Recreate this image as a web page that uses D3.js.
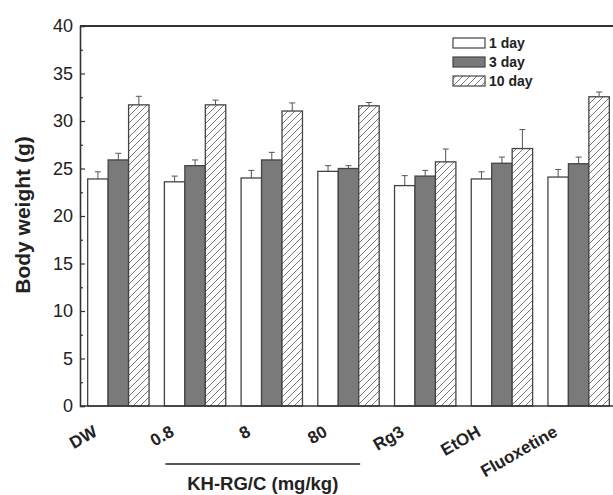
<!DOCTYPE html>
<html><head><meta charset="utf-8">
<script src="https://cdn.jsdelivr.net/npm/d3@7"></script>
<style>body{margin:0;background:#fff}svg{display:block}text{font-family:Arial,"Liberation Sans",sans-serif;fill:#222}</style>
</head><body><svg id="c" width="613" height="495"></svg>
<script>
const categories = ["DW","0.8","8","80","Rg3","EtOH","Fluoxetine"];
const seriesNames = ["1 day","3 day","10 day"];
const day1    = [23.9,23.6,24.0,24.7,23.2,23.9,24.1];
const day1Err = [0.75,0.6,0.8,0.6,1.05,0.75,0.8];
const day3    = [25.9,25.3,25.9,25.0,24.2,25.55,25.5];
const day3Err = [0.7,0.6,0.8,0.3,0.6,0.65,0.7];
const day10    = [31.7,31.7,31.05,31.6,25.7,27.1,32.55];
const day10Err = [0.9,0.5,0.85,0.35,1.35,2.0,0.5];
const yTicks = [0,5,10,15,20,25,30,35,40];
const yMinorTicks = [2.5,7.5,12.5,17.5,22.5,27.5,32.5,37.5];
const groupLabel = "KH-RG/C (mg/kg)";
const yTitle = "Body weight (g)";

(function(){
const values = [day1, day3, day10];
const errs = [day1Err, day3Err, day10Err];

const svg = d3.select("#c");
const pL = 80, pR = 617, pT = 26, pB = 406;

const x = d3.scaleBand().domain(categories).range([pL, pR]).paddingInner(0.2).paddingOuter(0.1);
const xs = d3.scaleBand().domain(seriesNames).range([0, x.bandwidth()]);
const y = d3.scaleLinear().domain([0, 40]).range([pB, pT]);

const defs = svg.append("defs");
const pat = defs.append("pattern").attr("id","hatch").attr("patternUnits","userSpaceOnUse")
  .attr("width",7).attr("height",7);
pat.append("rect").attr("width",7).attr("height",7).attr("fill","#fff");
pat.append("path").attr("d","M0,7 L7,0 M-1,1 L1,-1 M6,8 L8,6").attr("stroke","#555").attr("stroke-width",0.8);

const fills = ["#fff", "#7a7a7a", "url(#hatch)"];
const strokeC = "#444";

const g = svg.append("g");
categories.forEach((c, ci) => {
  seriesNames.forEach((s, si) => {
    const v = values[si][ci], e = errs[si][ci];
    const bx = x(c) + xs(s), bw = xs.bandwidth();
    const cx = bx + bw / 2;
    g.append("line").attr("x1", cx).attr("x2", cx).attr("y1", y(v)).attr("y2", y(v + e))
      .attr("stroke", "#555").attr("stroke-width", 1);
    g.append("line").attr("x1", cx - 3).attr("x2", cx + 3).attr("y1", y(v + e)).attr("y2", y(v + e))
      .attr("stroke", "#555").attr("stroke-width", 1);
    g.append("rect").attr("x", bx).attr("y", y(v)).attr("width", bw).attr("height", y(0) - y(v))
      .attr("fill", fills[si]).attr("stroke", strokeC).attr("stroke-width", 1.3);
  });
});

svg.append("line").attr("x1", pL).attr("x2", 613).attr("y1", pT).attr("y2", pT)
  .attr("stroke", "#333").attr("stroke-width", 2);
svg.append("line").attr("x1", pL).attr("x2", 613).attr("y1", pB).attr("y2", pB)
  .attr("stroke", "#333").attr("stroke-width", 1.6);

const yAxis = svg.append("g").attr("transform", `translate(${pL},0)`)
  .call(d3.axisLeft(y).tickValues(yTicks).tickSize(-5).tickPadding(7).tickFormat(d3.format("d")));
yAxis.select(".domain").attr("stroke", "#333").attr("stroke-width", 1.6);
yAxis.selectAll(".tick line").attr("stroke", "#333").attr("stroke-width", 1.2);
yAxis.selectAll(".tick text").style("font-size", "18px").attr("fill", "#222");

const yMinor = svg.append("g").attr("transform", `translate(${pL},0)`)
  .call(d3.axisLeft(y).tickValues(yMinorTicks).tickSize(-3).tickFormat(""));
yMinor.select(".domain").remove();
yMinor.selectAll(".tick line").attr("stroke", "#333").attr("stroke-width", 1.2);

svg.append("g").selectAll("text").data(categories).join("text")
  .attr("transform", d => `translate(${x(d) + x.bandwidth() / 2 - 20},435) rotate(-30)`)
  .attr("text-anchor", "end")
  .style("font-size", "17px").style("font-weight", "bold")
  .text(d => d);

const bx0 = x("0.8") + 1, bx1 = x("80") + x.bandwidth() * 0.69;
svg.append("line").attr("x1", bx0).attr("x2", bx1).attr("y1", 464).attr("y2", 464)
  .attr("stroke", "#222").attr("stroke-width", 1.6);
svg.append("text").attr("x", (bx0 + bx1) / 2).attr("y", 490).attr("text-anchor", "middle")
  .style("font-size", "18.5px").style("font-weight", "bold").text(groupLabel);

svg.append("text").attr("transform", `translate(30,215) rotate(-90)`).attr("text-anchor", "middle")
  .style("font-size", "21px").style("font-weight", "bold").text(yTitle);

const lg = svg.append("g");
seriesNames.forEach((s, i) => {
  const ly = 43 + i * 19;
  lg.append("rect").attr("x", 453).attr("y", ly - 5).attr("width", 32).attr("height", 10)
    .attr("fill", fills[i]).attr("stroke", strokeC).attr("stroke-width", 1.2);
  lg.append("text").attr("x", 489).attr("y", ly + 5).style("font-size", "14px").style("font-weight", "bold").text(s);
});
})();
</script></body></html>
